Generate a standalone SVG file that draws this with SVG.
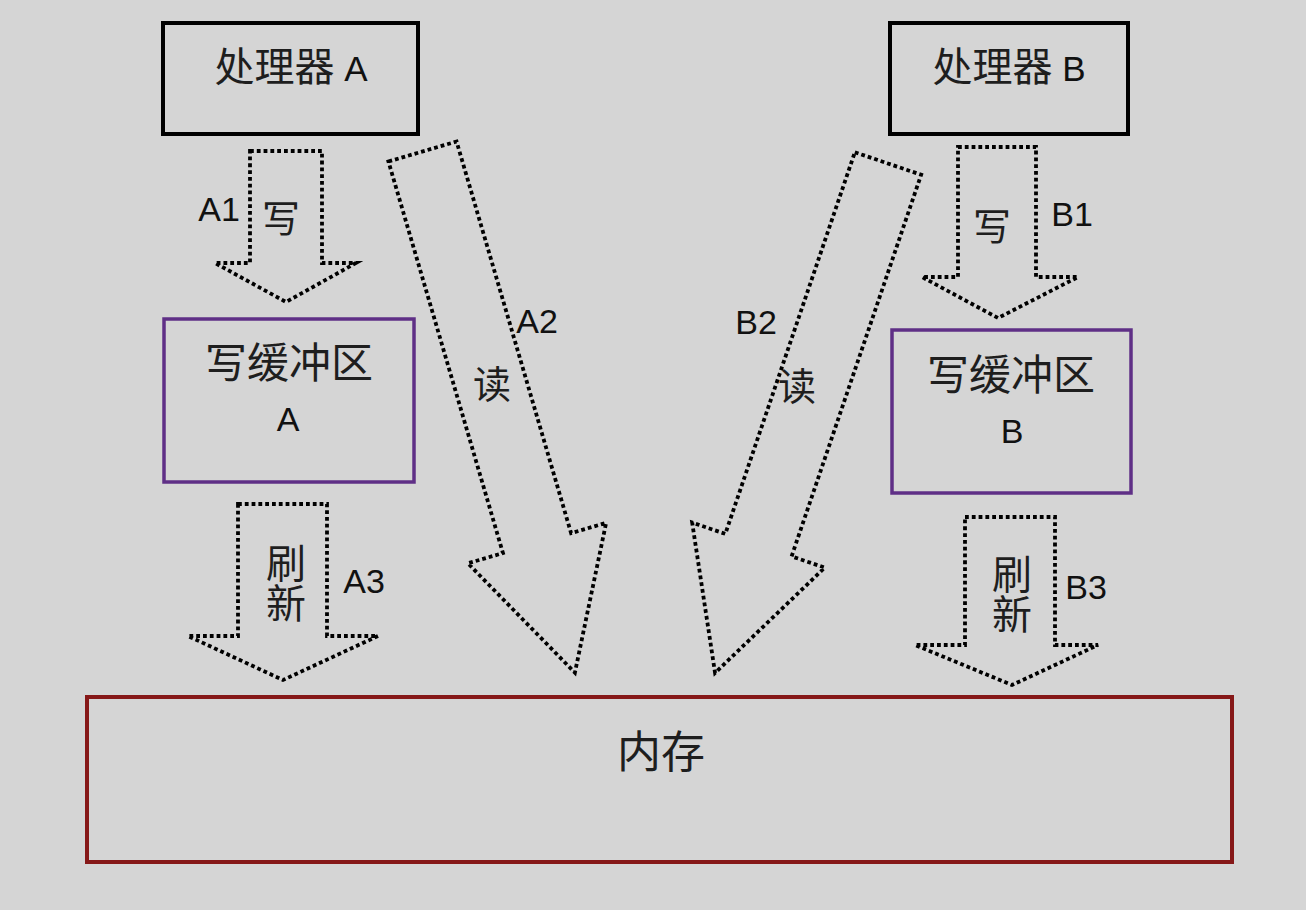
<svg xmlns="http://www.w3.org/2000/svg" width="1306" height="910" viewBox="0 0 1306 910">
  <defs>
    <style>
      .cjk { font-family: "Noto Sans CJK SC", "Noto Sans", sans-serif; fill: #1e1e1e; text-anchor: middle; }
      .lat { font-family: "Liberation Sans", Arial, sans-serif; fill: #111; text-anchor: middle; }
      .vert { writing-mode: vertical-rl; }
      .proc { fill: none; stroke: #000; stroke-width: 4; }
      .buf { fill: none; stroke: #5f2f86; stroke-width: 3.5; }
      .mem { fill: none; stroke: #861818; stroke-width: 4; }
      .arrow { fill: none; stroke: #000; stroke-width: 3.8; stroke-dasharray: 3.8 3; stroke-linejoin: miter; }
    </style>
  </defs>
  <rect x="0" y="0" width="1306" height="910" fill="#d5d5d5"/>

  <g id="processor-a">
    <rect class="proc" x="163" y="23" width="255" height="111"/>
    <text class="cjk" x="291" y="81" font-size="40">处理器<tspan class="lat" font-size="35"> A</tspan></text>
  </g>
  <g id="processor-b">
    <rect class="proc" x="890" y="23" width="238" height="111"/>
    <text class="cjk" x="1009" y="81" font-size="40">处理器<tspan class="lat" font-size="35"> B</tspan></text>
  </g>
  <g id="write-buffer-a">
    <rect class="buf" x="164" y="319" width="250" height="163"/>
    <text class="cjk" x="289" y="378" font-size="42">写缓冲区</text>
    <text class="lat" x="288" y="431" font-size="34">A</text>
  </g>
  <g id="write-buffer-b">
    <rect class="buf" x="892" y="330" width="239" height="163"/>
    <text class="cjk" x="1011" y="390" font-size="42">写缓冲区</text>
    <text class="lat" x="1012" y="443" font-size="34">B</text>
  </g>
  <g id="memory">
    <rect class="mem" x="87" y="697" width="1145" height="165"/>
    <text class="cjk" x="661" y="768" font-size="44">内存</text>
  </g>

  <g id="connectors">
    <g id="a1">
      <polygon class="arrow" points="250,151 322,151 322,263 356,263 286,302 215,263 250,263"/>
      <text class="lat" x="219" y="221" font-size="34">A1</text>
      <text class="cjk" x="281" y="232" font-size="38">写</text>
    </g>
    <g id="b1">
      <polygon class="arrow" points="958,147 1036,147 1036,277 1078,277 998,318 922,277 958,277"/>
      <text class="lat" x="1072" y="226" font-size="34">B1</text>
      <text class="cjk" x="992" y="240" font-size="38">写</text>
    </g>
    <g id="a2">
      <polygon class="arrow" transform="translate(422.5,151.5) rotate(-16.3)" points="-35.5,0 35.5,0 35.5,408 72,408 0,543 -72,408 -35.5,408"/>
      <text class="lat" x="537" y="333" font-size="34">A2</text>
      <text class="cjk" x="492" y="398" font-size="38">读</text>
    </g>
    <g id="b2">
      <polygon class="arrow" transform="translate(888,163.5) rotate(18.75)" points="-35,0 35,0 35,403 70,403 0,538 -70,403 -35,403"/>
      <text class="lat" x="756" y="334" font-size="34">B2</text>
      <text class="cjk" x="797" y="400" font-size="38">读</text>
    </g>
    <g id="a3">
      <polygon class="arrow" points="238,504 327,504 327,636 378,636 283,680 188,636 238,636"/>
      <text class="lat" x="364" y="593" font-size="34">A3</text>
      <text class="cjk vert" x="286" y="583" font-size="40">刷新</text>
    </g>
    <g id="b3">
      <polygon class="arrow" points="965,517 1055,517 1055,645 1098,645 1012,685 915,645 965,645"/>
      <text class="lat" x="1086" y="599" font-size="34">B3</text>
      <text class="cjk vert" x="1012" y="594" font-size="40">刷新</text>
    </g>
  </g>
</svg>
